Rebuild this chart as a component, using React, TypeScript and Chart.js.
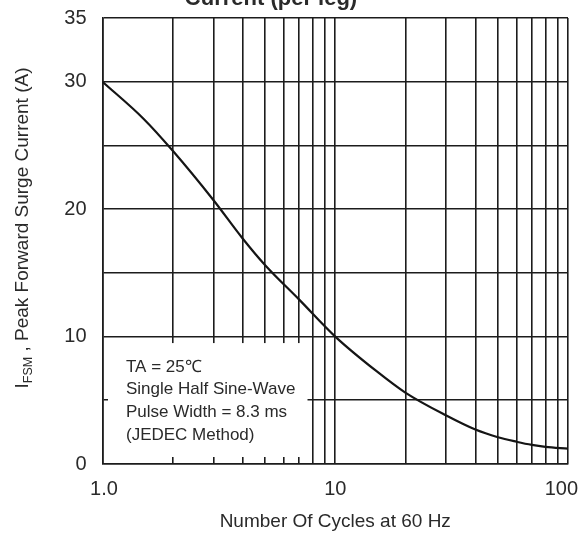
import React, { useEffect, useRef } from "react";
import { Chart, registerables } from "chart.js";

Chart.register(...registerables);

// ---- data ----
const cycles = [1, 1.5, 2, 3, 4, 5, 7, 10, 15, 20, 30, 40, 50, 60, 70, 80, 100];
const surgeCurrent = [30, 27.1, 24.6, 20.7, 17.7, 15.6, 12.9, 10.0, 7.3, 5.6, 3.8, 2.7, 2.1, 1.75, 1.5, 1.35, 1.2];
const xGridValues = [1, 2, 3, 4, 5, 6, 7, 8, 9, 10, 20, 30, 40, 50, 60, 70, 80, 90, 100];
const xTickValues = [1, 10, 100];
const xTickLabels = ["1.0", "10", "100"];
const yGridValues = [0, 5, 10, 15, 20, 25, 30, 35];
const yTickLabels = [0, 10, 20, 30, 35];
const chartTitle = "Current (per leg)";
const xAxisTitle = "Number Of Cycles at 60 Hz";
const yTitleSymbol = "I";
const yTitleSubscript = "FSM";
const yTitleRest = " , Peak Forward Surge Current (A)";
const noteLines = ["TA = 25\u2103", "Single Half Sine-Wave", "Pulse Width = 8.3 ms", "(JEDEC Method)"];

const FONT = '"Liberation Sans", Arial, sans-serif';
const INK = "#1c1c1c";
const TEXT = "#2a2a2a";

const overlayPlugin = {
  id: "overlay",
  beforeDatasetsDraw(chart: any) {
    const { ctx, chartArea, scales } = chart;
    const top = scales.y.getPixelForValue(10) + 6.5;
    const left = chartArea.left + 5.5;
    const right = scales.x.getPixelForValue(7.6);
    const bottom = chartArea.bottom - 7;
    ctx.save();
    ctx.fillStyle = "#ffffff";
    ctx.fillRect(left, top, right - left, bottom - top);
    ctx.fillStyle = TEXT;
    ctx.font = `17px ${FONT}`;
    ctx.textAlign = "left";
    ctx.textBaseline = "middle";
    noteLines.forEach((t, i) => {
      ctx.fillText(t, chartArea.left + 23.5, top + 24 + i * 22.7);
    });
    ctx.restore();
  },
  afterDraw(chart: any) {
    const { ctx, chartArea, scales } = chart;
    ctx.save();
    ctx.fillStyle = TEXT;
    // x tick labels (last one kept inside the canvas)
    ctx.font = `20px ${FONT}`;
    ctx.textBaseline = "middle";
    xTickValues.forEach((v, i) => {
      const px = scales.x.getPixelForValue(v);
      const last = i === xTickValues.length - 1;
      ctx.textAlign = last ? "right" : "center";
      ctx.fillText(xTickLabels[i], last ? Math.min(px + 16, 578) : px + (i === 0 ? 1.5 : 0), chartArea.bottom + 25);
    });
    // main title (cut at the top)
    ctx.font = `bold 22px ${FONT}`;
    ctx.textAlign = "center";
    ctx.textBaseline = "alphabetic";
    ctx.fillText(chartTitle, 271, 5);
    // x axis title
    ctx.font = `19px ${FONT}`;
    ctx.textBaseline = "middle";
    ctx.fillText(xAxisTitle, (chartArea.left + chartArea.right) / 2, 522);
    // y axis title with subscript
    ctx.textAlign = "left";
    ctx.textBaseline = "alphabetic";
    ctx.font = `19px ${FONT}`;
    const wI = ctx.measureText(yTitleSymbol).width;
    const wR = ctx.measureText(yTitleRest).width;
    ctx.font = `12.5px ${FONT}`;
    const wS = ctx.measureText(yTitleSubscript).width;
    const total = wI + wS + wR;
    ctx.translate(28, 228);
    ctx.rotate(-Math.PI / 2);
    const x0 = -total / 2;
    ctx.font = `19px ${FONT}`;
    ctx.fillText(yTitleSymbol, x0, 0);
    ctx.font = `12.5px ${FONT}`;
    ctx.fillText(yTitleSubscript, x0 + wI, 4);
    ctx.font = `19px ${FONT}`;
    ctx.fillText(yTitleRest, x0 + wI + wS, 0);
    ctx.restore();
  },
};

export default function App() {
  const canvasRef = useRef<HTMLCanvasElement | null>(null);

  useEffect(() => {
    const canvas = canvasRef.current;
    if (!canvas) return;
    const chart = new Chart(canvas, {
      type: "line",
      data: {
        datasets: [
          {
            data: cycles.map((c, i) => ({ x: c, y: surgeCurrent[i] })),
            borderColor: "#151515",
            borderWidth: 2.2,
            pointRadius: 0,
            fill: false,
            cubicInterpolationMode: "monotone",
          },
        ],
      },
      options: {
        animation: false,
        responsive: false,
        devicePixelRatio: 1,
        layout: { padding: { top: 18, right: 12, left: 0, bottom: 0 } },
        plugins: {
          legend: { display: false },
          tooltip: { enabled: false },
          title: { display: false },
        },
        scales: {
          x: {
            type: "logarithmic",
            min: 1,
            max: 100,
            afterBuildTicks: (s: any) => {
              s.ticks = xGridValues.map((v) => ({ value: v }));
            },
            afterFit: (s: any) => {
              s.height = 70;
              s.paddingLeft = 0;
              s.paddingRight = 0;
            },
            ticks: { display: false },
            grid: { color: INK, lineWidth: 1.6, drawTicks: false },
            border: { color: INK, width: 1.6 },
          },
          y: {
            type: "linear",
            min: 0,
            max: 35,
            afterBuildTicks: (s: any) => {
              s.ticks = yGridValues.map((v) => ({ value: v }));
            },
            afterFit: (s: any) => {
              s.width = 102.5;
              s.paddingTop = 0;
              s.paddingBottom = 0;
            },
            ticks: {
              padding: 16,
              color: TEXT,
              font: { family: FONT, size: 20 },
              callback: (v: any) => (yTickLabels.includes(Number(v)) ? String(v) : ""),
            },
            grid: { color: INK, lineWidth: 1.6, drawTicks: false },
            border: { color: INK, width: 1.6 },
          },
        },
      },
      plugins: [overlayPlugin],
    } as any);
    return () => chart.destroy();
  }, []);

  return (
    <div style={{ position: "fixed", left: 0, top: 0, width: 580, height: 534, background: "#fff" }}>
      <canvas ref={canvasRef} width={580} height={534} style={{ display: "block" }} />
    </div>
  );
}
